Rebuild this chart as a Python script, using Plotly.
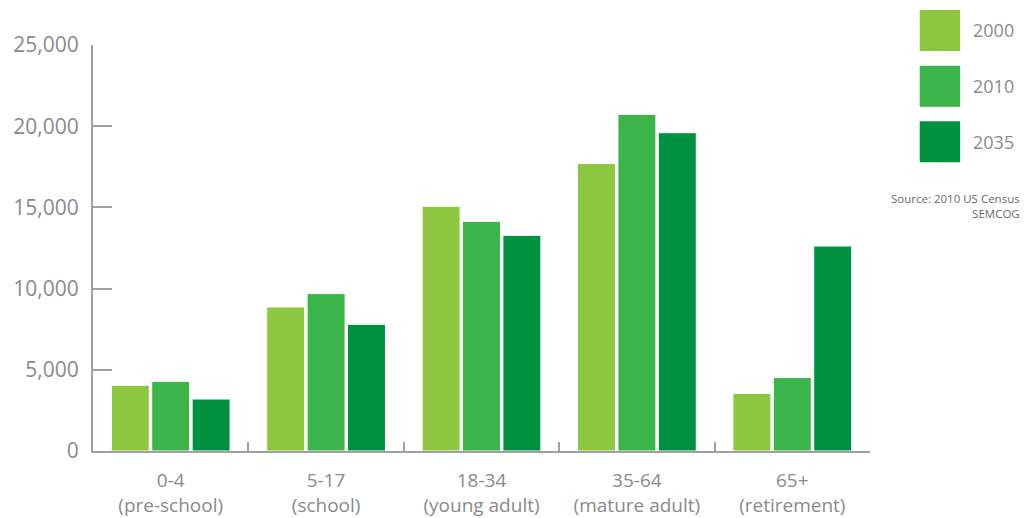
import plotly.graph_objects as go

categories = ["0-4<br>(pre-school)", "5-17<br>(school)", "18-34<br>(young adult)",
              "35-64<br>(mature adult)", "65+<br>(retirement)"]
years = ["2000", "2010", "2035"]
values_2000 = [4050, 8870, 15070, 17700, 3540]
values_2010 = [4290, 9690, 14140, 20730, 4520]
values_2035 = [3200, 7800, 13280, 19600, 12620]
colors = ["#8DC63F", "#3BB44A", "#009140"]
y_ticks = [0, 5000, 10000, 15000, 20000, 25000]
source_lines = ["Source: 2010 US Census", "SEMCOG"]

series = [values_2000, values_2010, values_2035]
font_family = "Open Sans, Lato, sans-serif"
axis_gray = "#a0a0a0"
text_gray = "#8a8a8a"

fig = go.Figure()
for name, vals, col in zip(years, series, colors):
    fig.add_trace(go.Bar(
        x=categories, y=vals, name=name,
        marker=dict(color=col, line=dict(color="white", width=1)),
        showlegend=False,
    ))

# Custom legend with large squares
for i, (name, col) in enumerate(zip(years, colors)):
    top = 1.086 - i * 0.137
    fig.add_shape(type="rect", xref="paper", yref="paper",
                  x0=1.064, x1=1.116, y0=top - 0.101, y1=top,
                  fillcolor=col, line=dict(width=0))
    fig.add_annotation(xref="paper", yref="paper", x=1.13, y=top - 0.05,
                       text=name, showarrow=False, xanchor="left", yanchor="middle",
                       font=dict(family=font_family, size=18, color=text_gray))

fig.add_annotation(xref="paper", yref="paper", x=1.1956, y=0.645,
                   text="<br>".join(source_lines), showarrow=False,
                   xanchor="right", yanchor="top", align="right",
                   font=dict(family=font_family, size=11.5, color="#6a6a6a"))

fig.update_layout(
    width=1027, height=518,
    margin=dict(l=93, r=157, t=45, b=67, autoexpand=False),
    paper_bgcolor="white", plot_bgcolor="white",
    barmode="group", bargap=0.22, bargroupgap=0.06,
    font=dict(family=font_family, color=text_gray),
)
fig.update_xaxes(
    automargin=False,
    showline=True, linecolor=axis_gray, linewidth=2,
    ticks="inside", tickson="boundaries", ticklen=9, tickcolor=axis_gray, tickwidth=1.5,
    tickfont=dict(family=font_family, size=19, color=text_gray),
    ticklabelstandoff=11,
    showgrid=False, zeroline=False,
)
fig.update_yaxes(
    automargin=False,
    range=[0, 25000], tickvals=y_ticks, tickformat=",d",
    showline=True, linecolor=axis_gray, linewidth=2,
    ticks="inside", ticklen=19, tickcolor=axis_gray, tickwidth=2,
    tickfont=dict(family=font_family, size=21, color=text_gray),
    ticklabelstandoff=8,
    showgrid=False, zeroline=False,
)

fig.write_html("out.html", config={"displayModeBar": False},
               post_script="document.body.style.margin='0';")
